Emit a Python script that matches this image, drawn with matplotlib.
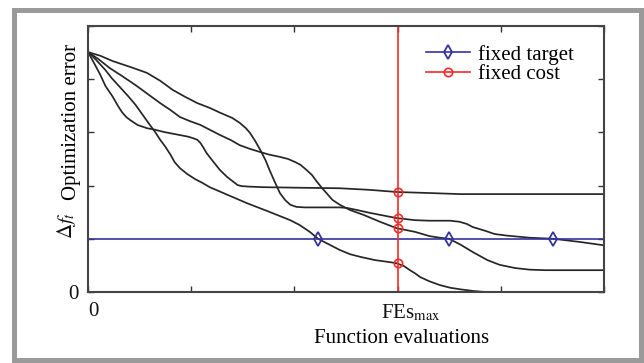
import matplotlib
matplotlib.use('Agg')
import matplotlib.pyplot as plt
from matplotlib.patches import Rectangle
from matplotlib.transforms import offset_copy

plt.rcParams['font.family'] = ['Liberation Serif', 'DejaVu Serif']
plt.rcParams['mathtext.fontset'] = 'stix'

# Four convergence curves (function evaluations vs. optimization error)
x1 = [0, 0.12, 0.24, 0.41, 0.57, 0.70, 0.82, 0.94, 1.06, 1.18, 1.28, 1.40, 1.47, 1.53, 1.57,
      1.62, 1.67, 1.72, 1.76, 1.81, 1.86, 1.91, 1.96, 2.02, 2.10, 2.44, 2.51, 2.61, 2.70, 2.83,
      2.99, 3.17, 3.31, 3.51, 3.60, 3.67, 3.73, 3.85, 3.94, 4.06, 4.28, 4.51, 4.77, 4.99]
y1 = [4.51, 4.44, 4.34, 4.23, 4.12, 3.97, 3.80, 3.67, 3.55, 3.46, 3.37, 3.27, 3.18, 3.08, 2.99,
      2.84, 2.67, 2.48, 2.29, 2.07, 1.86, 1.73, 1.64, 1.60, 1.59, 1.59, 1.58, 1.54, 1.50, 1.45,
      1.39, 1.35, 1.34, 1.34, 1.32, 1.28, 1.22, 1.15, 1.09, 1.06, 1.02, 1.00, 0.94, 0.88]

x2 = [0, 0.10, 0.21, 0.33, 0.46, 0.58, 0.70, 0.80, 0.89, 0.99, 1.09, 1.18, 1.28, 1.38, 1.47,
      1.57, 1.67, 1.76, 1.86, 1.94, 2.01, 2.06, 2.12, 2.17, 2.22, 2.27, 2.32, 2.37, 2.44, 2.54,
      2.67, 2.83, 2.99, 3.17, 3.31, 3.41, 3.50, 3.61, 3.73, 3.87, 3.99, 4.14, 4.28, 4.43, 4.99]
y2 = [4.51, 4.38, 4.21, 4.06, 3.89, 3.72, 3.55, 3.42, 3.29, 3.21, 3.14, 3.05, 2.95, 2.86, 2.76,
      2.69, 2.63, 2.58, 2.54, 2.50, 2.44, 2.39, 2.29, 2.20, 2.07, 1.95, 1.84, 1.73, 1.64, 1.54,
      1.45, 1.32, 1.20, 1.13, 1.05, 1.02, 1.00, 0.89, 0.75, 0.60, 0.51, 0.45, 0.42, 0.41, 0.41]

x3 = [0, 0.06, 0.12, 0.17, 0.24, 0.29, 0.33, 0.37, 0.41, 0.48, 0.57, 0.65, 0.73, 0.81, 0.89,
      0.97, 1.02, 1.06, 1.09, 1.12, 1.15, 1.21, 1.28, 1.35, 1.41, 1.45, 1.49, 1.57, 1.70, 2.05,
      2.44, 2.73, 2.99, 3.31, 3.61, 4.99]
y3 = [4.51, 4.30, 4.08, 3.87, 3.67, 3.50, 3.38, 3.29, 3.23, 3.14, 3.08, 3.05, 3.01, 2.98, 2.95,
      2.92, 2.89, 2.86, 2.80, 2.71, 2.61, 2.46, 2.29, 2.16, 2.07, 2.01, 1.99, 1.98, 1.97, 1.96,
      1.95, 1.92, 1.88, 1.86, 1.84, 1.84]

x4 = [0, 0.08, 0.17, 0.23, 0.31, 0.39, 0.46, 0.53, 0.60, 0.65, 0.70, 0.75, 0.80, 0.84, 0.89,
      0.96, 1.04, 1.11, 1.18, 1.36, 1.54, 1.74, 1.96, 2.05, 2.15, 2.23, 2.33, 2.44, 2.54, 2.64,
      2.78, 2.93, 2.99, 3.06, 3.12, 3.17, 3.22, 3.31, 3.41, 3.51, 3.61, 3.73, 3.85, 4.99]
y4 = [4.51, 4.36, 4.17, 4.02, 3.85, 3.68, 3.52, 3.33, 3.14, 3.01, 2.86, 2.73, 2.58, 2.44, 2.33,
      2.22, 2.12, 2.05, 1.97, 1.82, 1.67, 1.52, 1.35, 1.26, 1.13, 1.00, 0.90, 0.79, 0.71, 0.66,
      0.60, 0.56, 0.54, 0.49, 0.41, 0.35, 0.28, 0.20, 0.13, 0.08, 0.05, 0.02, 0.0, 0.0]

target = 1.0        # fixed target level
fes_max = 3.0       # fixed budget
target_hits = [2.23, 3.50, 4.51]
cost_hits = [1.88, 1.39, 1.20, 0.54]

xticks = [0, 1, 2, 3, 4, 5]
xticklabels = ['0', '', '', '', '', '']
yticks = [0, 1, 2, 3, 4, 5]
yticklabels = ['0', r'$\Delta f_t$', '', '', '', '']

blue = '#34349e'
red = '#f52a2a'
fs = 15

fig = plt.figure(figsize=(6.44, 3.63), dpi=100)
ax = fig.add_axes([0.1366, 0.1956, 0.8012, 0.7328])

for xs, ys in [(x1, y1), (x2, y2), (x3, y3), (x4, y4)]:
    ax.plot(xs, ys, color='#262626', lw=1.25)

ax.axhline(target, color=blue, lw=1.2)
ax.axvline(fes_max, color=red, lw=1.2)
ax.plot(target_hits, [target] * len(target_hits), ls='none', marker='d', ms=7.5,
        mfc='none', mec=blue, mew=1.3)
ax.plot([fes_max] * len(cost_hits), cost_hits, ls='none', marker='o', ms=6,
        mfc='none', mec=red, mew=1.2)

# legend handles with markers
h1, = ax.plot([], [], color=blue, lw=1.2, marker='d', ms=7.5, mfc='none', mew=1.3)
h2, = ax.plot([], [], color=red, lw=1.2, marker='o', ms=6, mfc='none', mew=1.2)
ax.legend([h1, h2], ['fixed target', 'fixed cost'], loc='upper left', frameon=False,
          fontsize=fs, handlelength=2.1, handletextpad=0.4, labelspacing=0.0,
          borderaxespad=0, borderpad=0, bbox_to_anchor=(0.655, 0.93))

ax.set_xlim(0, 5)
ax.set_ylim(0, 5)
ax.set_xticks(xticks)
ax.set_xticklabels(xticklabels, fontsize=fs)
ax.get_xticklabels()[0].set_ha('left')
ax.set_yticks(yticks)
ax.set_yticklabels(yticklabels, fontsize=fs)
ax.get_yticklabels()[1].set_rotation(90)
ax.get_yticklabels()[1].set_va('bottom')
ax.tick_params(direction='in', length=4, width=1, top=True, right=True, pad=7,
               colors='#333333', labelcolor='#111111')
for s in ax.spines.values():
    s.set_color('#444444')
    s.set_linewidth(1.5)

# FEs_max label sits just right of the budget line
ax.text(fes_max, 0, r'FEs$_{\rm max}$', fontsize=fs, color='#111111', ha='center', va='top',
        transform=offset_copy(ax.get_xaxis_transform(), fig=fig, x=13, y=-11, units='dots'))

ax.set_xlabel('Function evaluations', fontsize=fs, labelpad=6)
ax.xaxis.set_label_coords(0.608, -0.14)
ax.set_ylabel('Optimization error', fontsize=fs)
ax.yaxis.set_label_coords(-0.014, 0.64)

fig.patches.append(Rectangle((0.021, 0.0069), 0.9736, 0.9669, transform=fig.transFigure,
                             fill=False, edgecolor='#9a9a9a', lw=3.6))

fig.savefig('out.png', dpi=100)
